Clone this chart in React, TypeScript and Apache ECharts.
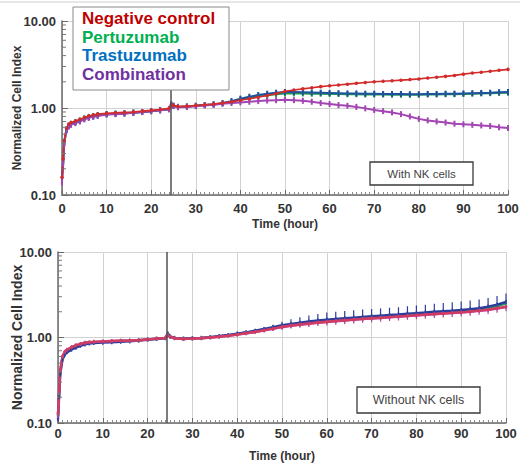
import React, { useEffect, useRef } from "react";
import * as echarts from "echarts";

// ---------- data ----------
const hours = [0, 0.25, 0.5, 1, 1.5, 2, 3, 4, 5, 6, 7, 8, 10, 12, 14, 16, 18, 20, 22, 24, 24.5, 25, 26, 28, 30, 32, 34, 36, 38, 40, 42, 44, 46, 48, 50, 52, 54, 56, 58, 60, 62, 64, 66, 68, 70, 72, 74, 76, 78, 80, 82, 84, 86, 88, 90, 92, 94, 96, 98, 100];

const seriesNames = ["Negative control", "Pertuzumab", "Trastuzumab", "Combination"];

// With NK cells (top panel)
const redTop = [0.16, 0.26, 0.42, 0.59, 0.65, 0.68, 0.71, 0.74, 0.78, 0.81, 0.83, 0.85, 0.87, 0.88, 0.89, 0.9, 0.92, 0.94, 0.96, 0.99, 1.1, 1.07, 1.04, 1.05, 1.07, 1.09, 1.11, 1.14, 1.18, 1.23, 1.28, 1.33, 1.39, 1.46, 1.56, 1.61, 1.66, 1.71, 1.76, 1.8, 1.84, 1.88, 1.92, 1.96, 2.0, 2.03, 2.06, 2.09, 2.12, 2.16, 2.21, 2.26, 2.31, 2.37, 2.45, 2.52, 2.58, 2.64, 2.71, 2.78];
const greenTop = [0.15, 0.24, 0.41, 0.57, 0.63, 0.66, 0.69, 0.72, 0.76, 0.79, 0.81, 0.83, 0.85, 0.86, 0.87, 0.89, 0.9, 0.92, 0.95, 0.97, 1.09, 1.06, 1.03, 1.04, 1.06, 1.08, 1.1, 1.13, 1.18, 1.25, 1.31, 1.36, 1.4, 1.44, 1.47, 1.47, 1.47, 1.46, 1.46, 1.45, 1.45, 1.44, 1.44, 1.43, 1.43, 1.43, 1.42, 1.42, 1.42, 1.42, 1.43, 1.43, 1.44, 1.44, 1.45, 1.46, 1.47, 1.48, 1.49, 1.5];
const blueTop = [0.15, 0.24, 0.4, 0.56, 0.62, 0.65, 0.68, 0.71, 0.75, 0.78, 0.8, 0.82, 0.85, 0.86, 0.87, 0.88, 0.9, 0.92, 0.94, 0.97, 1.1, 1.06, 1.03, 1.04, 1.06, 1.08, 1.1, 1.14, 1.2, 1.28, 1.35, 1.41, 1.46, 1.5, 1.53, 1.53, 1.52, 1.51, 1.5, 1.49, 1.48, 1.47, 1.47, 1.46, 1.46, 1.45, 1.45, 1.45, 1.44, 1.44, 1.45, 1.45, 1.46, 1.46, 1.47, 1.48, 1.49, 1.5, 1.52, 1.53];
const purpleTop = [0.14, 0.23, 0.39, 0.55, 0.61, 0.64, 0.67, 0.7, 0.74, 0.77, 0.79, 0.81, 0.84, 0.85, 0.86, 0.88, 0.9, 0.92, 0.94, 0.97, 1.08, 1.05, 1.02, 1.03, 1.05, 1.07, 1.09, 1.12, 1.14, 1.16, 1.18, 1.2, 1.22, 1.23, 1.24, 1.23, 1.21, 1.18, 1.14, 1.11, 1.08, 1.06, 1.03, 0.99, 0.95, 0.92, 0.89, 0.85, 0.8, 0.75, 0.72, 0.7, 0.68, 0.66, 0.65, 0.64, 0.63, 0.62, 0.6, 0.59];

// Without NK cells (bottom panel)
const redBot = [0.13, 0.24, 0.42, 0.6, 0.68, 0.72, 0.77, 0.81, 0.84, 0.87, 0.88, 0.89, 0.9, 0.91, 0.92, 0.92, 0.93, 0.95, 0.97, 0.99, 1.06, 1.02, 0.98, 0.96, 0.97, 0.98, 1.0, 1.02, 1.05, 1.08, 1.12, 1.16, 1.21, 1.27, 1.33, 1.38, 1.42, 1.46, 1.5, 1.53, 1.56, 1.59, 1.62, 1.65, 1.68, 1.7, 1.73, 1.76, 1.79, 1.82, 1.85, 1.88, 1.91, 1.94, 1.97, 2.01, 2.06, 2.12, 2.2, 2.3];
const greenBot = [0.12, 0.22, 0.4, 0.58, 0.66, 0.7, 0.75, 0.79, 0.82, 0.85, 0.87, 0.88, 0.89, 0.9, 0.91, 0.92, 0.93, 0.95, 0.97, 0.99, 1.08, 1.03, 0.99, 0.97, 0.98, 0.99, 1.01, 1.03, 1.06, 1.1, 1.14, 1.19, 1.24, 1.3, 1.36, 1.41, 1.46, 1.5, 1.54, 1.58, 1.61, 1.64, 1.67, 1.7, 1.73, 1.76, 1.79, 1.82, 1.85, 1.88, 1.91, 1.94, 1.97, 2.0, 2.04, 2.09, 2.14, 2.22, 2.32, 2.5];
const blueBot = [0.11, 0.2, 0.37, 0.55, 0.63, 0.67, 0.72, 0.76, 0.8, 0.83, 0.85, 0.86, 0.87, 0.88, 0.89, 0.9, 0.92, 0.94, 0.96, 0.98, 1.12, 1.03, 0.99, 0.97, 0.98, 0.99, 1.01, 1.04, 1.07, 1.11, 1.15, 1.2, 1.26, 1.32, 1.39, 1.44, 1.49, 1.54, 1.58, 1.62, 1.65, 1.68, 1.71, 1.74, 1.77, 1.8, 1.83, 1.86, 1.9, 1.93, 1.96, 2.0, 2.03, 2.06, 2.1, 2.15, 2.2, 2.3, 2.42, 2.6];
const purpleBot = [0.12, 0.23, 0.41, 0.6, 0.68, 0.72, 0.77, 0.81, 0.84, 0.87, 0.88, 0.89, 0.9, 0.91, 0.92, 0.92, 0.93, 0.95, 0.97, 0.99, 1.07, 1.02, 0.98, 0.96, 0.97, 0.98, 1.0, 1.02, 1.05, 1.08, 1.12, 1.16, 1.21, 1.26, 1.32, 1.37, 1.41, 1.45, 1.49, 1.52, 1.55, 1.58, 1.61, 1.64, 1.67, 1.69, 1.72, 1.75, 1.78, 1.81, 1.84, 1.87, 1.9, 1.93, 1.96, 2.0, 2.05, 2.1, 2.18, 2.27];

// error bars (bottom panel)
const errHours = [44, 46, 48, 50, 52, 54, 56, 58, 60, 62, 64, 66, 68, 70, 72, 74, 76, 78, 80, 82, 84, 86, 88, 90, 92, 94, 96, 98, 100];
const blueErrUpBot = [0.04, 0.06, 0.09, 0.14, 0.19, 0.23, 0.27, 0.3, 0.34, 0.35, 0.36, 0.37, 0.38, 0.39, 0.39, 0.4, 0.4, 0.42, 0.44, 0.46, 0.48, 0.5, 0.52, 0.54, 0.56, 0.58, 0.6, 0.64, 0.68];
const purpleErrDownBot = [0.03, 0.05, 0.07, 0.09, 0.1, 0.11, 0.12, 0.13, 0.14, 0.14, 0.15, 0.15, 0.15, 0.16, 0.16, 0.16, 0.17, 0.17, 0.18, 0.18, 0.18, 0.19, 0.19, 0.2, 0.2, 0.21, 0.22, 0.23, 0.24];

const treatmentHour = 24.3;
const yMinorTicks = [0.2, 0.3, 0.4, 0.5, 0.6, 0.7, 0.8, 0.9, 2, 3, 4, 5, 6, 7, 8, 9];
const xTitle = "Time (hour)";
const yTitle = "Normalized Cell Index";
const panelLabels = ["With NK cells", "Without NK cells"];

// ---------- styling ----------
const FONT = "'Liberation Sans', Arial, sans-serif";
const lineColors = ["#d32b2b", "#1f9e4c", "#1f4f9e", "#a345b3"];
const botColors = ["#d23c62", "#2a9a58", "#2c3c9e", "#b543a0"];
const legendColors = ["#c00000", "#00b050", "#0070c0", "#7030a0"];

function pairs(vals: number[]) {
  return hours.map((h, i) => [h, vals[i]]).filter((p) => p[1] != null);
}

function errData(vals: number[], errs: number[], up: boolean) {
  return errHours.map((h, i) => {
    const v = vals[hours.indexOf(h)];
    return up ? [h, v, v + errs[i]] : [h, v - errs[i], v];
  });
}

function xAxisOpt(gridIndex: number, nameGap: number, labelMargin: number) {
  return {
    type: "value",
    gridIndex,
    min: 0,
    max: 100,
    interval: 10,
    name: xTitle,
    nameLocation: "middle",
    nameGap,
    nameMoveOverlap: false,
    nameTextStyle: { fontFamily: FONT, fontWeight: "bold", fontSize: 12, color: "#333" },
    axisLine: { show: true, lineStyle: { color: "#6a6a6a", width: 1.5 } },
    axisTick: { show: true, inside: true, length: 5, lineStyle: { color: "#6a6a6a" } },
    minorTick: { show: true, splitNumber: 10, length: 3, lineStyle: { color: "#8a8a8a" } },
    splitLine: { show: true, lineStyle: { color: "#d2d2d2", width: 1 } },
    axisLabel: { fontFamily: FONT, fontWeight: "bold", fontSize: 13, color: "#333", margin: labelMargin },
  };
}

function yAxisOpt(gridIndex: number, nameGap: number, nameSize: number) {
  return {
    type: "log",
    logBase: 10,
    gridIndex,
    min: 0.1,
    max: 10,
    name: yTitle,
    nameLocation: "middle",
    nameGap,
    nameMoveOverlap: false,
    nameTextStyle: { fontFamily: FONT, fontWeight: "bold", fontSize: nameSize, color: "#333" },
    axisLine: { show: true, lineStyle: { color: "#6a6a6a", width: 1.5 } },
    axisTick: { show: true, inside: true, length: 6, lineStyle: { color: "#6a6a6a" } },
    splitLine: { show: true, lineStyle: { color: "#d2d2d2", width: 1 } },
    axisLabel: {
      fontFamily: FONT,
      fontWeight: "bold",
      fontSize: 13,
      color: "#333",
      margin: 6,
      formatter: (v: number) => Number(v).toFixed(2),
    },
  };
}

function lineSeries(name: string, vals: number[], color: string, gi: number, top: boolean, withMark: boolean) {
  const isRed = name === seriesNames[0];
  const s: any = {
    type: "line",
    name,
    xAxisIndex: gi,
    yAxisIndex: gi,
    data: pairs(vals),
    showSymbol: true,
    showAllSymbol: true,
    symbol: isRed ? "circle" : "rect",
    symbolSize: isRed ? (top ? 3.5 : 3) : top ? [2, 6] : [1.5, 4],
    lineStyle: { color, width: top ? (isRed ? 1.6 : 2) : 2.4 },
    itemStyle: { color },
    emphasis: { disabled: true },
    silent: true,
  };
  if (withMark) {
    s.markLine = {
      silent: true,
      symbol: ["none", "none"],
      label: { show: false },
      lineStyle: { color: "#505050", width: 1.5, type: "solid" },
      data: [{ xAxis: treatmentHour }],
    };
  }
  return s;
}

function minorTickSeries(gi: number) {
  return {
    type: "custom",
    xAxisIndex: gi,
    yAxisIndex: gi,
    silent: true,
    z: 5,
    data: yMinorTicks.map((v) => [0, v]),
    renderItem: (_p: any, api: any) => {
      const p = api.coord([0, api.value(1)]);
      return {
        type: "line",
        shape: { x1: p[0], y1: p[1], x2: p[0] + 4, y2: p[1] },
        style: { stroke: "#777", lineWidth: 1 },
      };
    },
  };
}

function errSeries(data: number[][], color: string, gi: number) {
  return {
    type: "custom",
    xAxisIndex: gi,
    yAxisIndex: gi,
    silent: true,
    z: 1,
    data,
    encode: { x: 0, y: [1, 2] },
    renderItem: (_p: any, api: any) => {
      const a = api.coord([api.value(0), api.value(1)]);
      const b = api.coord([api.value(0), api.value(2)]);
      return {
        type: "line",
        shape: { x1: a[0], y1: a[1], x2: b[0], y2: b[1] },
        style: { stroke: color, lineWidth: 1.2 },
      };
    },
  };
}

export default function App() {
  const ref = useRef<HTMLDivElement>(null);

  useEffect(() => {
    if (!ref.current) return;
    const chart = echarts.init(ref.current, undefined, { renderer: "svg" });

    const topVals = [redTop, greenTop, blueTop, purpleTop];
    const botVals = [redBot, greenBot, blueBot, purpleBot];
    const order = [1, 2, 3, 0]; // green, blue, purple, red on top

    const series: any[] = [];
    order.forEach((k, j) => {
      series.push(lineSeries(seriesNames[k], topVals[k], lineColors[k], 0, true, j === 0));
    });
    series.push(errSeries(errData(blueBot, blueErrUpBot, true), botColors[2], 1));
    series.push(errSeries(errData(purpleBot, purpleErrDownBot, false), botColors[3], 1));
    order.forEach((k, j) => {
      series.push(lineSeries(seriesNames[k], botVals[k], botColors[k], 1, false, j === 0));
    });
    series.push(minorTickSeries(0));
    series.push(minorTickSeries(1));

    const legendTexts = seriesNames.map((n, i) => ({
      type: "text",
      left: 82,
      top: 10 + i * 18.7,
      z: 101,
      style: {
        text: n,
        fill: legendColors[i],
        font: `bold 17px ${FONT}`,
      },
    }));

    const option: any = {
      animation: false,
      backgroundColor: "#ffffff",
      textStyle: { fontFamily: FONT },
      grid: [
        { left: 62, right: 12, top: 21, height: 174, containLabel: false, outerBoundsMode: "none" },
        { left: 58, right: 14, top: 252, height: 171, containLabel: false, outerBoundsMode: "none" },
      ],
      xAxis: [xAxisOpt(0, 23, 7), xAxisOpt(1, 27, 4)],
      yAxis: [yAxisOpt(0, 39, 12), yAxisOpt(1, 34, 14)],
      series,
      graphic: [
        {
          type: "line",
          z: 100,
          shape: { x1: 0, y1: 2, x2: 520, y2: 2 },
          style: { stroke: "#dedede", lineWidth: 1.5 },
        },
        {
          type: "rect",
          z: 100,
          shape: { x: 73, y: 7, width: 156, height: 83 },
          style: { fill: "#ffffff", stroke: "#8a8a8a", lineWidth: 1 },
        },
        ...legendTexts,
        {
          type: "rect",
          z: 100,
          shape: { x: 370, y: 162, width: 103, height: 23 },
          style: { fill: "#ffffff", stroke: "#3a3a3a", lineWidth: 1.3 },
        },
        {
          type: "text",
          z: 101,
          x: 421.5,
          y: 173.5,
          style: {
            text: panelLabels[0],
            fill: "#444",
            font: `11.5px ${FONT}`,
            align: "center",
            verticalAlign: "middle",
          },
        },
        {
          type: "rect",
          z: 100,
          shape: { x: 357, y: 387, width: 123, height: 26 },
          style: { fill: "#ffffff", stroke: "#3a3a3a", lineWidth: 1.3 },
        },
        {
          type: "text",
          z: 101,
          x: 418.5,
          y: 400,
          style: {
            text: panelLabels[1],
            fill: "#444",
            font: `12.5px ${FONT}`,
            align: "center",
            verticalAlign: "middle",
          },
        },
      ],
    };

    chart.setOption(option);
    return () => chart.dispose();
  }, []);

  return (
    <div
      ref={ref}
      style={{ position: "fixed", left: 0, top: 0, width: 520, height: 463, background: "#fff" }}
    />
  );
}
